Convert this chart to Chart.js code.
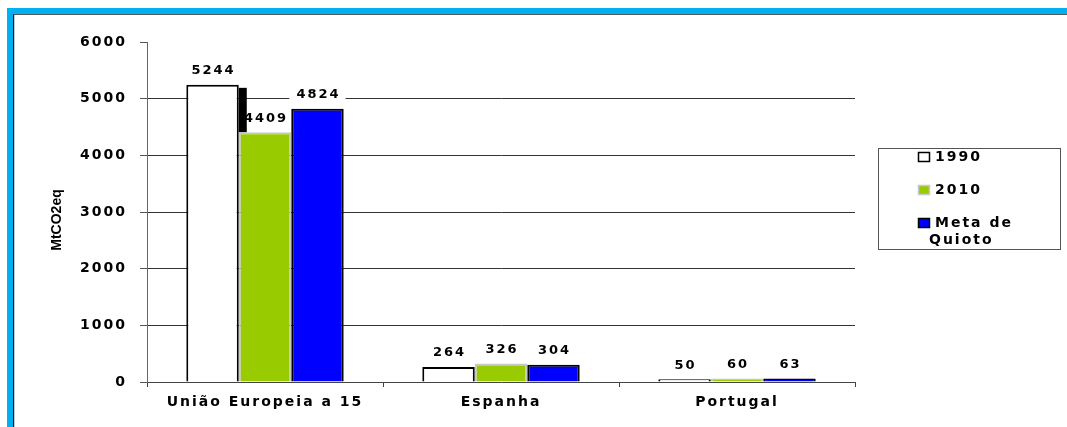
<!DOCTYPE html>
<html>
<head>
<meta charset="utf-8">
<script src="https://cdn.jsdelivr.net/npm/chart.js@4/dist/chart.umd.min.js"></script>
<style>
    html, body { margin: 0; padding: 0; background: #fff; }
    #wrap { position: relative; width: 1067px; height: 427px; overflow: hidden; }
    #frame {
        position: absolute; left: 7px; top: 8px; right: 0; bottom: 0;
        border-top: 6px solid #00b0f0; border-left: 6px solid #00b0f0;
    }
    #frame .inner {
        position: absolute; left: 0; top: 0; right: 0; bottom: 0;
        border-top: 1px solid #555; border-left: 1px solid #111;
        box-shadow: inset 1px 0 0 #ccc;
    }
    #chart { position: absolute; left: 0; top: 0; }
</style>
</head>
<body>
<div id="wrap">
    <div id="frame"><div class="inner"></div></div>
    <canvas id="chart" width="1067" height="427"></canvas>
</div>
<script>
const categories = ['União Europeia a 15', 'Espanha', 'Portugal'];
const values1990 = [5244, 264, 50];
const values2010 = [4409, 326, 60];
const valuesQuioto = [4824, 304, 63];
const seriesNames = [['1990'], ['2010'], ['Meta de', 'Quioto']];
const yMax = 6000;
const yStep = 1000;
const yTitle = 'MtCO2eq';

const white = '#ffffff';
const green = '#99cc00';
const blue = '#0000ff';
const textFont = '"DejaVu Sans", Verdana, sans-serif';
const spacing = '2px';

// wide text everywhere, like the old office chart
const spacingPlugin = {
    id: 'spacing',
    beforeUpdate(chart) { chart.ctx.letterSpacing = spacing; },
    beforeDraw(chart) { chart.ctx.letterSpacing = spacing; }
};

// white boxes behind value labels (hide gridlines), drawn under the bars
const labelBoxes = {
    id: 'labelBoxes',
    beforeDatasetsDraw(chart) {
        const ctx = chart.ctx;
        ctx.save();
        ctx.font = 'bold 13px ' + textFont;
        chart.data.datasets.forEach((ds, di) => {
            chart.getDatasetMeta(di).data.forEach((bar, i) => {
                const w = ctx.measureText(String(ds.data[i])).width;
                ctx.fillStyle = white;
                ctx.fillRect(bar.x - w / 2 - 6, bar.y - 22, w + 12, 16);
            });
        });
        ctx.restore();
    },
    afterDatasetsDraw(chart) {
        const ctx = chart.ctx;
        ctx.save();
        ctx.font = 'bold 13px ' + textFont;
        ctx.fillStyle = '#000';
        ctx.textAlign = 'center';
        ctx.textBaseline = 'middle';
        chart.data.datasets.forEach((ds, di) => {
            chart.getDatasetMeta(di).data.forEach((bar, i) => {
                ctx.fillText(String(ds.data[i]), bar.x + 1, bar.y - 14);
            });
        });
        // shadow of the 1990 bar where the 2010 bar is lower
        const m0 = chart.getDatasetMeta(0).data;
        const m1 = chart.getDatasetMeta(1).data;
        ctx.fillStyle = '#000';
        m0.forEach((bar, i) => {
            const next = m1[i];
            if (next.y > bar.y + 3) {
                ctx.fillRect(bar.x + bar.width / 2, bar.y + 3, 8, next.y - bar.y - 3);
            }
        });
        ctx.restore();
    }
};

// axis title and boxed legend on the right
const sideText = {
    id: 'sideText',
    afterDraw(chart) {
        const ctx = chart.ctx;
        ctx.save();
        ctx.letterSpacing = '0px';
        ctx.font = 'bold 14px "Liberation Sans", Arial, sans-serif';
        ctx.fillStyle = '#000';
        ctx.textAlign = 'center';
        ctx.textBaseline = 'middle';
        ctx.translate(57, (chart.chartArea.top + chart.chartArea.bottom) / 2 + 8);
        ctx.rotate(-Math.PI / 2);
        ctx.fillText(yTitle, 0, 0);
        ctx.restore();

        ctx.save();
        ctx.letterSpacing = spacing;
        ctx.fillStyle = white;
        ctx.fillRect(878, 148, 183, 102);
        ctx.strokeStyle = '#555';
        ctx.lineWidth = 1;
        ctx.strokeRect(878.5, 148.5, 182, 101);
        ctx.font = 'bold 14px ' + textFont;
        ctx.textBaseline = 'middle';
        const rows = [157, 190, 223];
        chart.data.datasets.forEach((ds, di) => {
            const y = rows[di];
            ctx.fillStyle = ds.backgroundColor;
            ctx.fillRect(918, y - 5, 12, 10);
            ctx.strokeStyle = ds.borderColor;
            ctx.lineWidth = 1.5;
            ctx.strokeRect(918.5, y - 4.5, 11, 9);
            ctx.fillStyle = '#000';
            ds.label.forEach((line, li) => {
                ctx.fillText(line, li === 0 ? 935 : 929, y + li * 17);
            });
        });
        ctx.restore();
    }
};

new Chart(document.getElementById('chart'), {
    type: 'bar',
    data: {
        labels: categories,
        datasets: [{
            label: seriesNames[0],
            data: values1990,
            backgroundColor: white,
            borderColor: '#000',
            borderWidth: 2
        }, {
            label: seriesNames[1],
            data: values2010,
            backgroundColor: green,
            borderColor: '#c8c8c8',
            borderWidth: 2
        }, {
            label: seriesNames[2],
            data: valuesQuioto,
            backgroundColor: blue,
            borderColor: '#000',
            borderWidth: 2
        }]
    },
    options: {
        responsive: false,
        animation: false,
        layout: { padding: { left: 0, top: 42, right: 212, bottom: 0 } },
        datasets: {
            bar: { categoryPercentage: 0.667, barPercentage: 1 }
        },
        plugins: {
            legend: { display: false },
            tooltip: { enabled: false }
        },
        scales: {
            x: {
                grid: {
                    offset: true,
                    drawOnChartArea: false,
                    tickLength: 5,
                    color: '#444'
                },
                border: { color: '#444', width: 1 },
                ticks: {
                    padding: 7,
                    color: '#000',
                    font: { family: textFont, size: 14, weight: 'bold' }
                },
                afterFit: s => { s.height = 45; }
            },
            y: {
                min: 0,
                max: yMax,
                ticks: {
                    stepSize: yStep,
                    padding: 13,
                    color: '#000',
                    font: { family: textFont, size: 14, weight: 'bold' },
                    callback: value => String(value)
                },
                grid: {
                    tickLength: 7,
                    color: ctx => ctx.tick && (ctx.tick.value === yMax || ctx.tick.value === 0) ? 'rgba(0,0,0,0)' : '#333',
                    tickColor: '#555'
                },
                border: { color: '#666', width: 1 },
                afterFit: s => { s.width = 147; }
            }
        }
    },
    plugins: [spacingPlugin, labelBoxes, sideText]
});
</script>
</body>
</html>
